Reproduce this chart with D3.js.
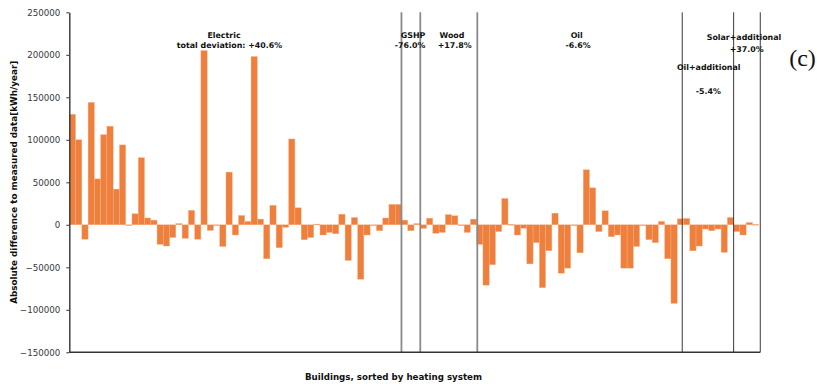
<!DOCTYPE html>
<html>
<head>
<meta charset="utf-8">
<script src="https://cdn.jsdelivr.net/npm/d3@7"></script>
<style>
  body { margin: 0; background: #fff; }
  svg { display: block; }
</style>
</head>
<body>
<svg id="chart" width="817" height="384"></svg>
<script>
// ---- data ----
const values = [
  130000, 100000, -17000, 144000, 54000, 106000, 116000, 42000, 94000, -500,
  13000, 79000, 8000, 5500, -23000, -25000, -15000, 1500, -16000, 17000,
  -17000, 205000, -6700, -500, -25500, 62000, -12000, 11000, 4000, 198000,
  6700, -40000, 23000, -27000, -3000, 101000, 20000, -17600, -15000, 800,
  -12000, -9000, -10600, 12500, -42000, 8600, -64000, -12000, -500, -7000,
  8000, 24000, 24000, 5500, -7000, 1500, -4300, 7800, -10000, -9000,
  12000, 10600, -500, -9000, 6700, -23000, -71000, -47000, -8000, 31000,
  500, -12000, -4000, -46000, -21000, -74000, -30600, 13700, -57000, -51000,
  -1000, -33000, 64700, 43500, -8000, 16500, -14000, -12000, -51000, -51000,
  -25500, -1000, -17600, -21000, 4000, -40000, -92500, 7000, 7500, -30600,
  -25000, -5000, -7000, -5000, -32500, 8600, -8000, -12000, 2700, 500
];
const yTicks = [-150000, -100000, -50000, 0, 50000, 100000, 150000, 200000, 250000];
const groupNames = ["Electric", "GSHP", "Wood", "Oil", "Oil+additional", "Solar+additional"];
const groupDeviation = ["total deviation: +40.6%", "-76.0%", "+17.8%", "-6.6%", "-5.4%", "+37.0%"];
// group boundaries, in building index units
const boundaries = [53, 56, 65.1, 97.8, 106, 110.25];
const yTitle = "Absolute difference to measured data[kWh/year]";
const xTitle = "Buildings, sorted by heating system";

(function () {
// ---- layout ----
const svg = d3.select("#chart");
const plotLeft = 69.3, barsRight = 758.7, plotTop = 12.3, plotBottom = 352.3;
const x = d3.scaleLinear().domain([0, values.length]).range([plotLeft, barsRight]);
const y = d3.scaleLinear().domain([-150000, 250000]).range([plotBottom, plotTop]);
const sans = "'DejaVu Sans', 'Open Sans', sans-serif";

// bars
svg.append("g").selectAll("rect").data(values).join("rect")
  .attr("x", (d, i) => x(i))
  .attr("width", (d, i) => x(i + 1) - x(i))
  .attr("y", d => y(Math.max(0, d)))
  .attr("height", d => Math.max(0.8, Math.abs(y(d) - y(0))))
  .attr("fill", "#EF7F3C")
  .attr("stroke", "#F6B58C")
  .attr("stroke-width", 0.4);

// separators
svg.append("g").selectAll("line").data(boundaries).join("line")
  .attr("x1", d => x(d)).attr("x2", d => x(d))
  .attr("y1", plotTop).attr("y2", plotBottom)
  .attr("stroke", (d, i) => i < 3 ? "#8a8a8a" : "#3a3a3a")
  .attr("stroke-width", (d, i) => i < 3 ? 1.8 : 1);

// y axis
const yAxis = svg.append("g")
  .attr("transform", `translate(${plotLeft},0)`)
  .call(d3.axisLeft(y).tickValues(yTicks).tickFormat(d3.format("d"))
    .tickSize(3).tickSizeOuter(0).tickPadding(6));
yAxis.select(".domain").attr("stroke", "#333").attr("stroke-width", 1.4);
yAxis.selectAll(".tick line").attr("stroke", "#333");
yAxis.selectAll(".tick text").attr("font-family", sans).attr("font-size", 8.7).attr("fill", "#3a3a3a");

// x baseline
svg.append("line")
  .attr("x1", plotLeft).attr("x2", x(boundaries[boundaries.length - 1]))
  .attr("y1", plotBottom).attr("y2", plotBottom)
  .attr("stroke", "#333").attr("stroke-width", 1.4);

// axis titles
svg.append("text")
  .attr("transform", `translate(17.3,${(plotTop + plotBottom) / 2}) rotate(-90)`)
  .attr("text-anchor", "middle")
  .attr("font-family", sans).attr("font-weight", "bold").attr("font-size", 8.8)
  .attr("fill", "#111")
  .text(yTitle);
svg.append("text")
  .attr("x", 393.5).attr("y", 379.5)
  .attr("text-anchor", "middle")
  .attr("font-family", sans).attr("font-weight", "bold").attr("font-size", 8.7)
  .attr("fill", "#111")
  .text(xTitle);

// group annotations: [name x, name baseline, deviation x, deviation baseline]
const annPos = [
  [224, 37.5, 229.5, 48],
  [413, 37.5, 410, 48],
  [452, 37.5, 454.7, 48],
  [576.7, 37.5, 578, 48],
  [708.7, 69.5, 708.3, 93.5],
  [744, 39.5, 746.7, 51.5]
];
const ann = svg.append("g")
  .attr("font-family", sans).attr("font-weight", "bold").attr("font-size", 7.9)
  .attr("fill", "#111").attr("text-anchor", "middle");
groupNames.forEach((name, i) => {
  const p = annPos[i];
  ann.append("text").attr("x", p[0]).attr("y", p[1]).text(name);
  ann.append("text").attr("x", p[2]).attr("y", p[3]).text(groupDeviation[i]);
});

// panel label
svg.append("text")
  .attr("x", 802.5).attr("y", 65.5)
  .attr("text-anchor", "middle")
  .attr("font-family", "'Liberation Serif', 'Times New Roman', serif")
  .attr("font-size", 24).attr("fill", "#111")
  .text("(c)");
})();
</script>
</body>
</html>
